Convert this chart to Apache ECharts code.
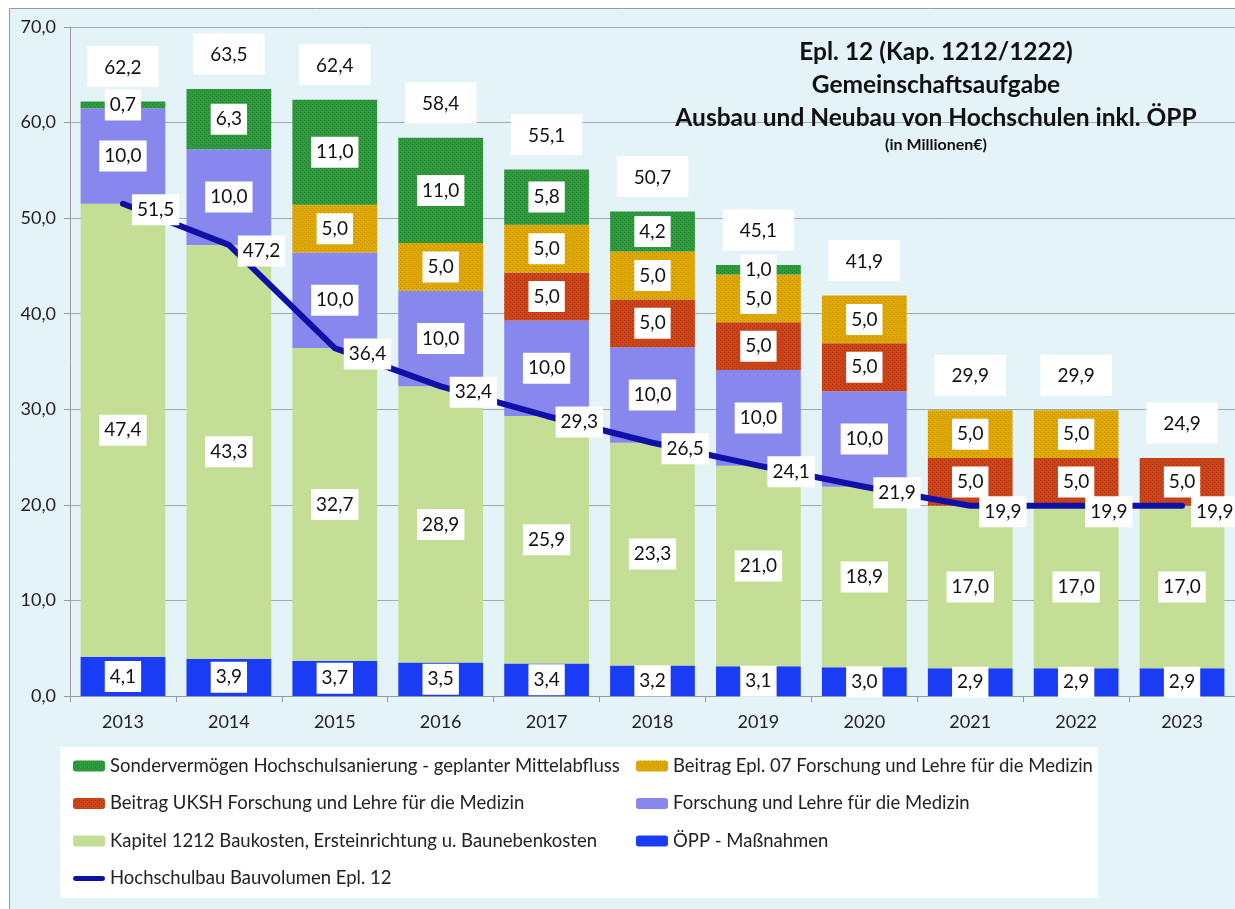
<!DOCTYPE html>
<html>
<head>
<meta charset="utf-8">
<script src="https://cdn.jsdelivr.net/npm/echarts@6/dist/echarts.min.js"></script>
<style>
html, body { margin: 0; padding: 0; background: #fff; }
#chart { width: 1235px; height: 909px; }
</style>
</head>
<body>
<div id="chart"></div>
<script>
const years = ['2013', '2014', '2015', '2016', '2017', '2018', '2019', '2020', '2021', '2022', '2023']
const oepp = [4.1, 3.9, 3.7, 3.5, 3.4, 3.2, 3.1, 3.0, 2.9, 2.9, 2.9]
const kapitel = [47.4, 43.3, 32.7, 28.9, 25.9, 23.3, 21.0, 18.9, 17.0, 17.0, 17.0]
const forschung = [10, 10, 10, 10, 10, 10, 10, 10, 0, 0, 0]
const uksh = [0, 0, 0, 0, 5, 5, 5, 5, 5, 5, 5]
const epl07 = [0, 0, 5, 5, 5, 5, 5, 5, 5, 5, 0]
const sonder = [0.7, 6.3, 11.0, 11.0, 5.8, 4.2, 1.0, 0, 0, 0, 0]
const totals = [62.2, 63.5, 62.4, 58.4, 55.1, 50.7, 45.1, 41.9, 29.9, 29.9, 24.9]
const bauvolumen = [51.5, 47.2, 36.4, 32.4, 29.3, 26.5, 24.1, 21.9, 19.9, 19.9, 19.9]

const names = {
    sonder: 'Sondervermögen Hochschulsanierung - geplanter Mittelabfluss',
    epl07: 'Beitrag Epl. 07 Forschung und Lehre für die Medizin',
    uksh: 'Beitrag UKSH Forschung und Lehre für die Medizin',
    forschung: 'Forschung und Lehre für die Medizin',
    kapitel: 'Kapitel 1212 Baukosten, Ersteinrichtung u. Baunebenkosten',
    oepp: 'ÖPP - Maßnahmen',
    line: 'Hochschulbau Bauvolumen Epl. 12'
}

const font = 'Lato, "Open Sans", sans-serif'
const fmt = v => v.toFixed(1).replace('.', ',')

// kleines Punktraster fuer die schraffierten Flaechen
function hatch(base, dot) {
    let c = document.createElement('canvas')
    c.width = 4
    c.height = 4
    let ctx = c.getContext('2d')
    ctx.fillStyle = base
    ctx.fillRect(0, 0, 4, 4)
    ctx.fillStyle = dot
    ctx.fillRect(0, 0, 1, 1)
    ctx.fillRect(2, 2, 1, 1)
    return { image: c, repeat: 'repeat' }
}

const innerLabel = {
    show: true,
    position: 'inside',
    backgroundColor: '#fff',
    padding: [7, 5, 5, 5],
    color: '#111',
    fontSize: 19,
    fontFamily: font,
    formatter: p => fmt(p.value)
}

function barSeries(name, data, color) {
    return {
        name: name,
        type: 'bar',
        stack: 'total',
        barWidth: '80%',
        data: data.map(v => v === 0 ? '-' : v),
        itemStyle: { color: color },
        label: innerLabel,
        emphasis: { disabled: true }
    }
}

const legendText = { fontSize: 18.5, color: '#222', lineHeight: 20, fontFamily: font }

let chart = echarts.init(document.getElementById('chart'))

let option = {
    animation: false,
    textStyle: { fontFamily: font },
    graphic: [
        {
            type: 'rect', z: -10, silent: true,
            shape: { x: 9.5, y: 8.5, width: 1240, height: 910 },
            style: { fill: '#e4f3f8', stroke: '#9a9a9a', lineWidth: 1 }
        },
        {
            type: 'rect', z: -9, silent: true,
            shape: { x: 60, y: 747, width: 1038, height: 151 },
            style: { fill: '#fff' }
        }
    ],
    title: [{
        text: 'Epl. 12 (Kap. 1212/1222)\nGemeinschaftsaufgabe\nAusbau und Neubau von Hochschulen inkl. ÖPP',
        left: 931,
        top: 31,
        textAlign: 'center',
        textStyle: { fontSize: 24.5, fontWeight: 'bold', color: '#111', lineHeight: 33, fontFamily: font }
    }, {
        text: '(in Millionen€)',
        left: 931,
        top: 132,
        textAlign: 'center',
        textStyle: { fontSize: 16, fontWeight: 'bold', color: '#111', fontFamily: font }
    }],
    legend: [{
        orient: 'vertical',
        left: 73,
        top: 756,
        padding: 0,
        itemWidth: 32,
        itemHeight: 11,
        itemGap: 17.5,
        textStyle: legendText,
        data: [names.sonder, names.uksh, names.kapitel, {
            name: names.line,
            icon: 'path://M3,0 L37,0 A3,3 0 0 1 37,6 L3,6 A3,3 0 0 1 3,0 Z'
        }]
    }, {
        orient: 'vertical',
        left: 636,
        top: 756,
        padding: 0,
        itemWidth: 32,
        itemHeight: 11,
        itemGap: 17.5,
        textStyle: legendText,
        data: [names.epl07, names.forschung, names.oepp]
    }],
    grid: {
        left: 70,
        top: 27,
        width: 1167,
        height: 669
    },
    xAxis: {
        type: 'category',
        data: years,
        axisLine: { lineStyle: { color: '#9a9a9a' } },
        axisTick: { show: true, length: 6, lineStyle: { color: '#9a9a9a' } },
        axisLabel: { fontSize: 18, color: '#222', margin: 17, fontFamily: font }
    },
    yAxis: {
        type: 'value',
        min: 0,
        max: 70,
        interval: 10,
        axisLine: { show: true, lineStyle: { color: '#9a9a9a' } },
        axisTick: { show: true, length: 6, lineStyle: { color: '#9a9a9a' } },
        axisLabel: { fontSize: 18, color: '#222', margin: 14, fontFamily: font, formatter: v => fmt(v) },
        splitLine: { lineStyle: { color: '#a8a8a8', width: 1 } }
    },
    series: [
        barSeries(names.oepp, oepp, '#1a3cf5'),
        barSeries(names.kapitel, kapitel, '#c4de96'),
        barSeries(names.forschung, forschung, '#8787ee'),
        barSeries(names.uksh, uksh, hatch('#cc4418', '#a8300e')),
        barSeries(names.epl07, epl07, hatch('#e2aa00', '#b88a00')),
        barSeries(names.sonder, sonder, hatch('#2f9a3e', '#1f7a2c')),
        {
            name: 'Summe',
            type: 'line',
            data: totals,
            z: 5,
            symbol: 'circle',
            symbolSize: 1,
            lineStyle: { opacity: 0 },
            itemStyle: { color: 'rgba(0,0,0,0)' },
            label: {
                show: true,
                position: 'top',
                distance: 14,
                backgroundColor: '#fff',
                padding: [12, 17, 10, 17],
                color: '#111',
                fontSize: 19,
                fontFamily: font,
                formatter: p => fmt(p.value)
            },
            emphasis: { disabled: true }
        },
        {
            name: names.line,
            type: 'line',
            data: bauvolumen,
            z: 6,
            symbol: 'circle',
            symbolSize: 2,
            itemStyle: { color: '#1010a8' },
            lineStyle: { color: '#1010a8', width: 6, cap: 'round', join: 'round' },
            label: {
                show: true,
                position: 'right',
                distance: 8,
                offset: [0, 6],
                backgroundColor: '#fff',
                padding: [7, 5, 5, 5],
                color: '#111',
                fontSize: 19,
                fontFamily: font,
                formatter: p => fmt(p.value)
            },
            emphasis: { disabled: true }
        }
    ]
}

chart.setOption(option)
</script>
</body>
</html>
